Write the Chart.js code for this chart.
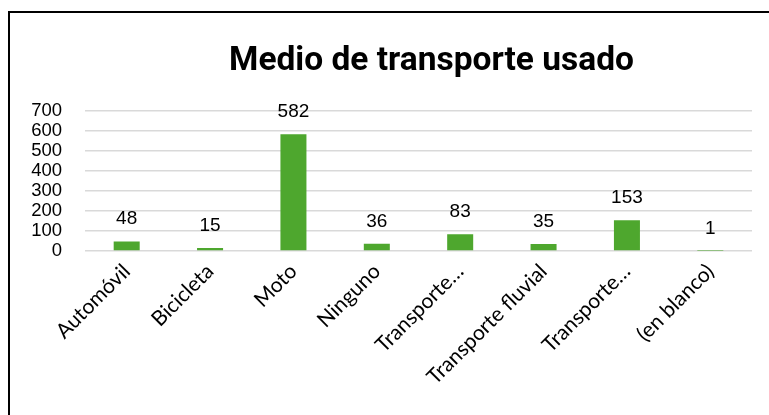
<!DOCTYPE html>
<html>
<head>
<meta charset="utf-8">
<script src="https://cdn.jsdelivr.net/npm/chart.js@4.4.1/dist/chart.umd.min.js"></script>
<style>
  html, body { margin:0; padding:0; width:769px; height:415px; overflow:hidden; background:#fff; }
  #frame { position:absolute; left:8px; top:11px; width:1000px; height:1000px; border:2px solid #000; box-sizing:border-box; }
  #wrap { position:absolute; left:0; top:0; width:769px; height:415px; }
</style>
</head>
<body>
<div id="frame"></div>
<div id="wrap"><canvas id="c" width="769" height="415"></canvas></div>
<script>
const categories = ['Automóvil', 'Bicicleta', 'Moto', 'Ninguno', 'Transporte…', 'Transporte fluvial', 'Transporte…', '(en blanco)'];
const values = [48, 15, 582, 36, 83, 35, 153, 1];
const chartTitle = 'Medio de transporte usado';
const yMin = 0, yMax = 700, yStep = 100;

const valueLabels = {
  id: 'valueLabels',
  afterDatasetsDraw(chart) {
    const ctx = chart.ctx;
    const meta = chart.getDatasetMeta(0);
    ctx.save();
    ctx.font = '19px "Liberation Sans", Arial, sans-serif';
    ctx.fillStyle = '#000';
    ctx.textAlign = 'center';
    ctx.textBaseline = 'alphabetic';
    meta.data.forEach((bar, i) => {
      ctx.fillText(String(values[i]), bar.x, bar.y - 17);
    });
    ctx.restore();
  }
};

const offsetTitle = {
  id: 'offsetTitle',
  afterDraw(chart) {
    const ctx = chart.ctx;
    ctx.save();
    ctx.font = 'bold 33.5px Roboto, "Liberation Sans", sans-serif';
    ctx.fillStyle = '#000';
    ctx.textAlign = 'center';
    ctx.textBaseline = 'alphabetic';
    ctx.fillText(chartTitle, 431.5, 70);
    ctx.restore();
  }
};

new Chart(document.getElementById('c'), {
  type: 'bar',
  data: {
    labels: categories,
    datasets: [{
      data: values,
      backgroundColor: '#4ea72e',
      borderWidth: 0,
      barPercentage: 0.312,
      categoryPercentage: 1.0
    }]
  },
  options: {
    responsive: false,
    animation: false,
    events: [],
    layout: { padding: { left: 0, right: 17, top: 110.7, bottom: 0 } },
    plugins: {
      legend: { display: false },
      tooltip: { enabled: false },
      title: { display: false }
    },
    scales: {
      x: {
        grid: { display: false, drawTicks: false },
        border: { display: false },
        ticks: {
          color: '#000',
          font: { family: 'Lato, "Open Sans", sans-serif', size: 21 },
          minRotation: 45,
          maxRotation: 45,
          autoSkip: false,
          padding: 8
        },
        afterFit(scale) { scale.height = 164; }
      },
      y: {
        min: yMin,
        max: yMax,
        grid: { color: '#d9d9d9', lineWidth: 1.5, drawTicks: false },
        border: { display: false },
        ticks: {
          stepSize: yStep,
          autoSkip: false,
          color: '#000',
          font: { family: '"Liberation Sans", Arial, sans-serif', size: 18.5, lineHeight: 1 },
          padding: 23
        },
        afterFit(scale) { scale.width = 85; }
      }
    }
  },
  plugins: [valueLabels, offsetTitle]
});
</script>
</body>
</html>
